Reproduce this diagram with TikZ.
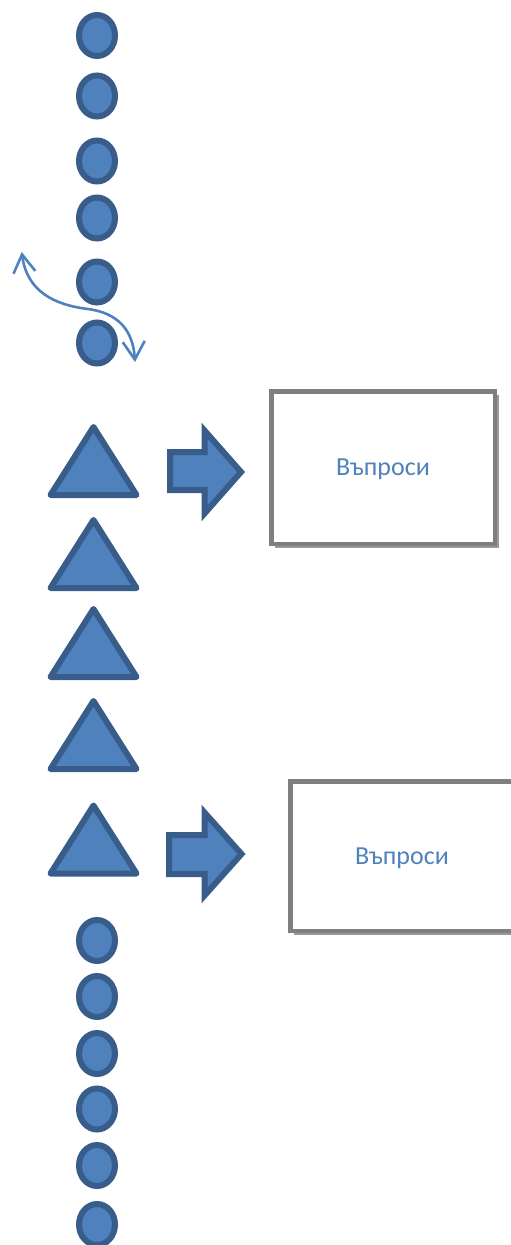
\documentclass[tikz,border=0pt]{standalone}
\usepackage{fontspec}
\newfontfamily\carlito{Carlito}
\usetikzlibrary{shapes.geometric,arrows.meta,shadows}
\definecolor{ofill}{HTML}{4F81BD}
\definecolor{oline}{HTML}{385D8A}
\definecolor{boxline}{HTML}{7F7F7F}
\begin{document}
\begin{tikzpicture}[x=1pt,y=-1pt,
  bead/.style={ellipse, draw=oline, fill=ofill, line width=6pt, minimum width=36pt, minimum height=41pt, inner sep=0pt},
  tri/.style={draw=oline, fill=ofill, line width=6pt, line join=round},
  blockarrow/.style={draw=oline, fill=ofill, line width=6pt, line join=miter},
  qbox/.style={draw=boxline, line width=4.5pt, fill=white, minimum width=223.5pt, minimum height=152.5pt, inner sep=0pt,
    font=\carlito\fontsize{26}{31}\selectfont, text=ofill, text height=16.5pt, text depth=0pt,
    drop shadow={shadow xshift=4pt, shadow yshift=-4pt, fill=black, opacity=0.4}},
  swaparrow/.style={draw=ofill, line width=2.6pt, line cap=round,
    {Straight Barb[length=18pt,width=22pt]}-{Straight Barb[length=18pt,width=22pt]}}
]
\useasboundingbox (0,0) rectangle (511,1245);
% beads (top and bottom)
\foreach \yy [count=\n] in {35.5,96,161,218,282,343,940.5,996.5,1053.5,1109,1165.5,1224.5}
  \node[bead] (c\n) at (97,\yy) {};
% triangles
\foreach \ya in {427,520,609,701,805.5}
  \draw[tri] (93.5,\ya) -- (136.5,\ya+68) -- (50.5,\ya+68) -- cycle;
% curved double arrow
\coordinate (s1) at (21.7,252);
\coordinate (s2) at (135,362);
\draw[swaparrow] (s1) .. controls (27,292) and (55,305) .. (88,309) .. controls (118,313) and (133,330) .. (s2);
% block arrows
\draw[blockarrow] (170,452) -- (204.5,452) -- (204.5,430.5) -- (241,472) -- (204.5,513.5) -- (204.5,490) -- (170,490) -- cycle;
\draw[blockarrow] (169,835) -- (204.5,835) -- (204.5,812.5) -- (241.5,854) -- (204.5,895.5) -- (204.5,874) -- (169,874) -- cycle;
% boxes
\node[qbox] (b1) at (383,467.5) {Въпроси\hspace{9pt}};
\node[qbox, minimum height=149.5pt] (b2) at (402,856) {Въпроси\hspace{9pt}};
\end{tikzpicture}
\end{document}
